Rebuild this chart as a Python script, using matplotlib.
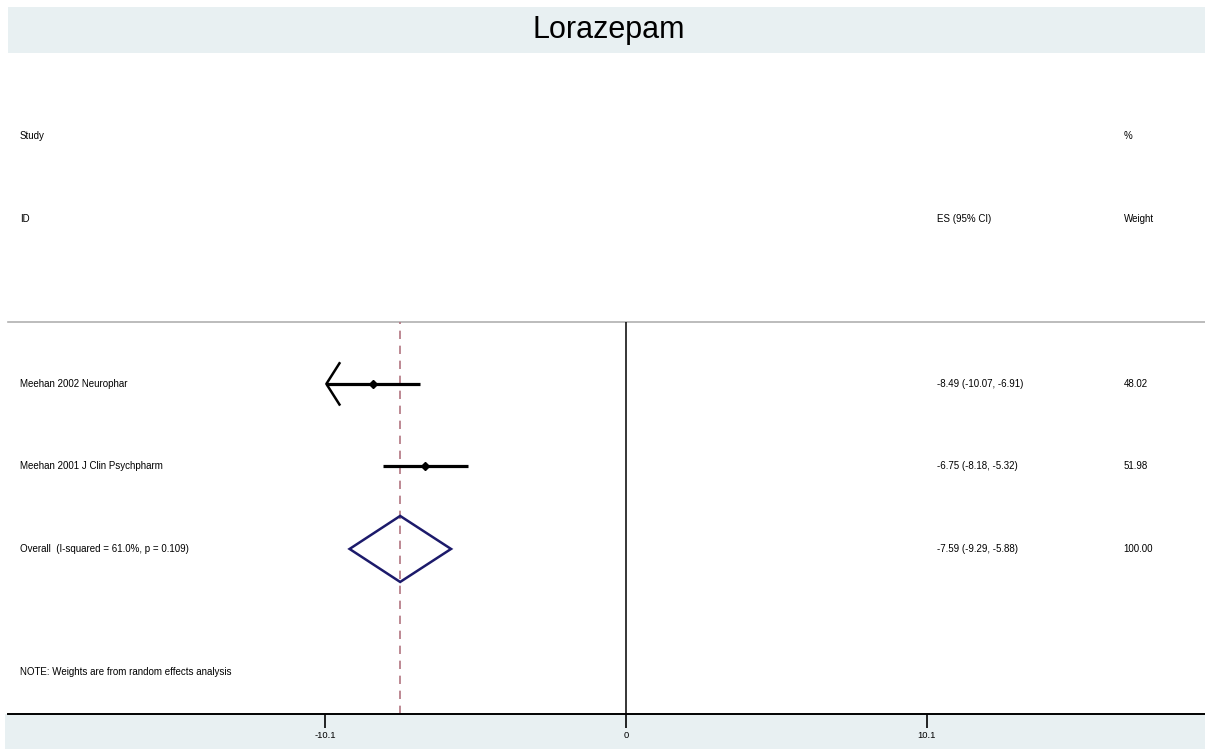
"""
Forest plot: Lorazepam (random effects meta-analysis).
"""

import matplotlib
matplotlib.use("Agg")
import matplotlib.pyplot as plt
from matplotlib.patches import Rectangle, Polygon

plt.rcParams["font.family"] = ["Liberation Sans", "DejaVu Sans"]

TITLE = "Lorazepam"
STUDIES = ["Meehan 2002 Neurophar", "Meehan 2001 J Clin Psychpharm"]
ES      = [-8.49, -6.75]
LOWER   = [-10.07, -8.18]
UPPER   = [-6.91, -5.32]
WEIGHTS = ["48.02", "51.98"]

OVERALL_LABEL = "Overall  (I-squared = 61.0%, p = 0.109)"
OVERALL_ES    = -7.59
OVERALL_LOWER = -9.29
OVERALL_UPPER = -5.88
OVERALL_WEIGHT = "100.00"

NOTE = "NOTE: Weights are from random effects analysis"
XTICKS = [-10.1, 0, 10.1]
XTICK_LABELS = ["-10.1", "0", "10.1"]

BAND = "#E8F0F2"
W, H = 1205, 749

fig = plt.figure(figsize=(W / 100, H / 100), dpi=100)

# title band and bottom band (behind the axes)
fig.patches.append(Rectangle((8 / W, 1 - 53 / H), 1 - 8 / W, 46 / H,
                             transform=fig.transFigure, facecolor=BAND,
                             edgecolor="none", zorder=-5))
fig.patches.append(Rectangle((5 / W, 0), 1 - 5 / W, 35 / H,
                             transform=fig.transFigure, facecolor=BAND,
                             edgecolor="none", zorder=-5))
fig.text(609 / W, 1 - 30 / H, TITLE, ha="center", va="center", fontsize=22)

ax = fig.add_axes([8 / W, 35 / H, 1 - 8 / W, (714 - 322) / H])
ax.set_xlim(-20.77, 19.46)
ax.set_ylim(5.0, 0.25)
ax.patch.set_alpha(0)

for side in ["left", "right", "top"]:
    ax.spines[side].set_visible(False)
ax.spines["bottom"].set_linewidth(1.4)
ax.set_yticks([])
ax.set_xticks(XTICKS)
ax.set_xticklabels(XTICK_LABELS, fontsize=6.8)
ax.tick_params(axis="x", length=10, width=1.2, pad=2)

# top separator
ax.axhline(0.25, color="#b0b0b0", lw=1.2, clip_on=False)
# null line and overall line
ax.axvline(0, color="black", lw=1.1)
ax.axvline(OVERALL_ES, color="#b27480", lw=1.2, ls=(0, (5, 4)))

txt = dict(fontsize=7, va="center", clip_on=False)
x_lab, x_es, x_w = -20.37, 10.45, 16.72

# headers
ax.text(x_lab, -2.0, "Study", **txt)
ax.text(x_lab, -1.0, "ID", **txt)
ax.text(x_es, -1.0, "ES (95% CI)", **txt)
ax.text(x_w, -2.0, "%", **txt)
ax.text(x_w, -1.0, "Weight", **txt)

for i, (name, es, lo, hi, w) in enumerate(zip(STUDIES, ES, LOWER, UPPER, WEIGHTS)):
    y = i + 1
    ax.plot([lo, hi], [y, y], color="black", lw=2.3, solid_capstyle="butt")
    ax.plot(es, y, marker="D", color="black", ms=4.5)
    if lo <= -10.0:
        # clipped lower bound drawn as an open arrow head
        ax.plot([lo + 0.44, lo, lo + 0.44], [y - 0.25, y, y + 0.25],
                color="black", lw=1.8)
    ax.text(x_lab, y, name, **txt)
    ax.text(x_es, y, f"{es:.2f} ({lo:.2f}, {hi:.2f})", **txt)
    ax.text(x_w, y, w, **txt)

y = len(STUDIES) + 1
ax.add_patch(Polygon([(OVERALL_LOWER, y), (OVERALL_ES, y - 0.4),
                      (OVERALL_UPPER, y), (OVERALL_ES, y + 0.4)],
                     closed=True, fill=False, edgecolor="#1c1a6b", lw=1.8,
                     zorder=3))
ax.text(x_lab, y, OVERALL_LABEL, **txt)
ax.text(x_es, y, f"{OVERALL_ES:.2f} ({OVERALL_LOWER:.2f}, {OVERALL_UPPER:.2f})", **txt)
ax.text(x_w, y, OVERALL_WEIGHT, **txt)

ax.text(x_lab, 4.49, NOTE, **txt)

fig.savefig("out.png", dpi=100)
